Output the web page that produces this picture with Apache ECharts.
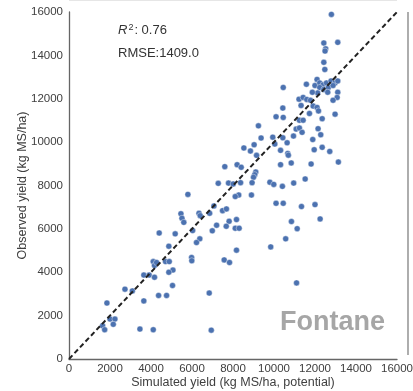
<!DOCTYPE html>
<html>
<head>
<meta charset="utf-8">
<script src="https://cdn.jsdelivr.net/npm/echarts@6/dist/echarts.min.js"></script>
<style>html,body{margin:0;padding:0;background:#fff}#c{width:413px;height:391px}</style>
</head>
<body>
<div id="c"></div>
<script>
var xTicks = [0, 2000, 4000, 6000, 8000, 10000, 12000, 14000, 16000];
var yTicks = [0, 2000, 4000, 6000, 8000, 10000, 12000, 14000, 16000];
var oneToOne = [[0, 0], [16000, 16000]];
var simulated = [12800,12430,13110,12520,12490,12430,12480,10450,11580,12100,12000,12230,12390,12560,12780,12980,13110,12230,12430,12650,12880,12130,11870,12620,13110,13080,12880,11220,11420,11600,11780,11320,11910,12100,10430,12170,11730,12980,10100,10450,11240,11420,12350,9240,11080,11240,12150,11370,12280,9940,10430,10950,9370,11890,10040,10640,9030,8530,12350,10670,10320,8850,10700,11960,12720,9150,10840,13140,10320,11810,7600,8200,8400,9110,9060,9000,8930,7280,7780,8010,8370,9800,9990,10410,10960,11520,5800,8900,8280,8110,7070,10100,10450,12000,11340,5460,5510,5600,6340,6400,6860,7490,7680,7810,7200,8170,12250,10850,5180,4400,6030,6990,7670,8110,8300,11130,6380,6220,10570,8170,9840,4870,4110,4170,4270,4710,4890,5980,5990,7570,7830,3650,3910,4170,5070,4870,5050,2730,3090,4370,4760,6840,11100,3650,1850,2000,2240,2160,1640,1740,3460,4110,6940];
var observed = [15890,14570,14600,14300,14200,13680,13350,12520,12670,12890,12610,12730,12640,12730,12820,12730,12820,12520,12430,12520,12610,12270,12300,12300,12300,12060,11930,11980,12060,11970,11930,11690,11660,11600,11570,11440,11320,11290,11170,11140,11010,11010,11080,10750,10600,10650,10620,10450,10340,10230,10200,10280,10190,10120,9910,9970,9880,9730,9760,9480,9620,9590,9400,9650,9570,9390,9040,9080,8960,8990,8870,8960,8840,8620,8500,8380,8130,8100,8110,8070,8130,8150,8050,7960,8110,8300,7590,7560,7560,7490,7060,7180,7180,7120,7030,6700,6490,6300,6720,6610,6720,6840,6920,6350,6170,6430,6460,6340,5770,5810,5920,5910,6120,6030,6030,6010,5540,5370,5540,5020,5170,5200,4490,4310,4450,4490,4490,4680,4530,4570,4450,3870,3870,3770,4100,4000,3390,3220,3140,2930,2930,3040,3510,2680,2580,1840,1840,1600,1530,1350,1380,1350,1330];
var r2Label = '0.76';
var rmseLabel = '1409.0';
var siteName = 'Fontane';

var points = simulated.map(function (v, i) { return [v, observed[i]]; });
var chart = echarts.init(document.getElementById('c'), null, {renderer: 'canvas'});
var labelStyle = {color: '#404040', fontSize: 11.5, fontFamily: 'Liberation Sans, Arial, sans-serif'};
chart.setOption({
  animation: false,
  backgroundColor: '#fff',
  grid: {left: 69, right: 16, top: 12, bottom: 32, containLabel: false, outerBoundsMode: 'none'},
  xAxis: {
    type: 'value', min: 0, max: 16000, interval: 2000,
    name: 'Simulated yield (kg MS/ha, potential)', nameLocation: 'middle', nameGap: 17, nameMoveOverlap: false,
    nameTextStyle: {color: '#404040', fontSize: 12.5, fontFamily: 'Liberation Sans, Arial, sans-serif', verticalAlign: 'top'},
    axisLine: {show: true, lineStyle: {color: '#666', width: 1.3}},
    axisTick: {show: false}, splitLine: {show: false},
    axisLabel: Object.assign({margin: 4, formatter: function (v) { return xTicks.indexOf(v) >= 0 ? String(v) : ''; }}, labelStyle)
  },
  yAxis: {
    type: 'value', min: 0, max: 16000, interval: 2000,
    name: 'Observed yield (kg MS/ha)', nameLocation: 'middle', nameGap: 40, nameMoveOverlap: false,
    nameTextStyle: {color: '#404040', fontSize: 12.5, fontFamily: 'Liberation Sans, Arial, sans-serif'},
    axisLine: {show: true, lineStyle: {color: '#666', width: 1.3}},
    axisTick: {show: false}, splitLine: {show: false},
    axisLabel: Object.assign({margin: 6, formatter: function (v) { return yTicks.indexOf(v) >= 0 ? String(v) : ''; }}, labelStyle)
  },
  graphic: [
    {type: 'line', shape: {x1: 408, y1: 12, x2: 408, y2: 355}, style: {stroke: '#777', lineWidth: 1.2}},
    {type: 'line', shape: {x1: 69, y1: 0.5, x2: 397, y2: 0.5}, style: {stroke: '#e6e6e6', lineWidth: 1}},
    {type: 'text', left: 118, top: 23, style: {
      text: '{i|R}{s|2}{n|: ' + r2Label + '}',
      rich: {
        i: {fontStyle: 'italic', fontSize: 13, fill: '#333', fontFamily: 'Liberation Sans, Arial, sans-serif'},
        s: {fontSize: 9, fill: '#333', verticalAlign: 'top', padding: [0, 1, 6, 1], fontFamily: 'Liberation Sans, Arial, sans-serif'},
        n: {fontSize: 13, fill: '#333', fontFamily: 'Liberation Sans, Arial, sans-serif'}
      }
    }},
    {type: 'text', left: 118, top: 47, style: {text: 'RMSE:' + rmseLabel, fontSize: 13, fill: '#333', fontFamily: 'Liberation Sans, Arial, sans-serif'}},
    {type: 'text', left: 280, top: 309, style: {text: siteName, fontSize: 27, fontWeight: 'bold', fill: '#a6a6a6', fontFamily: 'Liberation Sans, Arial, sans-serif'}}
  ],
  series: [
    {
      type: 'line', data: oneToOne, symbol: 'none', silent: true, z: 3,
      lineStyle: {color: '#222', width: 2, type: [5, 3]}
    },
    {
      type: 'scatter', data: points, symbolSize: 6, z: 2,
      itemStyle: {color: '#4C72B0', borderColor: '#fff', borderWidth: 0.4, opacity: 1}
    }
  ]
});
</script>
</body>
</html>
